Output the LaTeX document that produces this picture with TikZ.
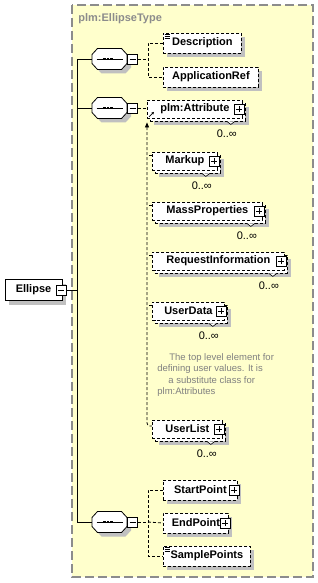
\documentclass[tikz,border=0pt]{standalone}
\usepackage{fontspec}
\setmainfont{Liberation Sans}
\usetikzlibrary{arrows.meta, positioning, calc, shadows}
\definecolor{typebg}{HTML}{FFFFCC}
\definecolor{typegray}{HTML}{8C8C8C}
\definecolor{shgray}{HTML}{C0C0C0}
\definecolor{notegray}{HTML}{808080}

\tikzset{
  boxshadow/.style={drop shadow={shadow xshift=4pt, shadow yshift=-4pt, fill=shgray, opacity=1}},
  elembase/.style={draw, fill=white, dash pattern=on 3pt off 2pt, font=\fontsize{11}{13}\selectfont\bfseries,
    minimum height=20pt, inner sep=0pt, anchor=west},
  elem/.style={elembase, boxshadow},
  pmbox/.style={draw, solid, fill=white, line width=0.6pt, minimum size=10pt, inner sep=0pt},
  minusbox/.style={pmbox, path picture={\draw[line width=0.6pt]
    ([xshift=2pt]path picture bounding box.west) -- ([xshift=-2pt]path picture bounding box.east);}},
  plusbox/.style={pmbox, path picture={\draw[line width=0.6pt]
    ([xshift=2pt]path picture bounding box.west) -- ([xshift=-2pt]path picture bounding box.east)
    ([yshift=2pt]path picture bounding box.south) -- ([yshift=-2pt]path picture bounding box.north);}},
  conn/.style={dash pattern=on 3pt off 2pt},
  occ/.style={font=\fontsize{11}{13}\selectfont, inner sep=0pt},
  seqbox/.style={minimum width=35pt, minimum height=21pt, inner sep=0pt},
  octpath/.style={insert path={(-17.5,-4.5) -- (-12,-10.5) -- (12,-10.5) -- (17.5,-4.5)
    -- (17.5,4.5) -- (12,10.5) -- (-12,10.5) -- (-17.5,4.5) -- cycle}}
}

\begin{document}
\begin{tikzpicture}[x=1pt, y=-1pt, line width=0.8pt, >={Triangle[length=5pt, width=4pt]}]

\useasboundingbox (0,0) rectangle (318,583);

% Complex type frame
\draw[typegray, fill=typebg, line width=1.2pt, dash pattern=on 9pt off 4pt] (72,5) rectangle (313,577);
\node[font=\fontsize{11}{13}\selectfont\bfseries, text=typegray, anchor=west, inner sep=0pt] (title) at (78,19) {plm:EllipseType};

% Root element
\node[elem, solid, anchor=center, minimum width=57pt, minimum height=21pt] (ellipse) at (33.5,290) {Ellipse\hspace{3pt}};
\node[minusbox] (emin) at (61,290) {};

% Sequence compositors
\node[seqbox] (seq1) at (109.5,59) {};
\node[seqbox] (seq2) at (109.5,108) {};
\node[seqbox] (seq3) at (109.5,522) {};
\foreach \s in {seq1,seq2,seq3} {
  \fill[shgray, shift={($(\s.center)+(4,4)$)}, octpath];
  \draw[fill=white, shift={(\s.center)}, octpath];
  \draw[line width=0.6pt] ($(\s.center)+(-13,0)$) -- ($(\s.center)+(13,0)$);
  \foreach \d in {-5,-1.5,2}
    \fill ($(\s.center)+(\d-1.3,-1.3)$) rectangle ++(2.6,2.6);
}
\node[minusbox, right=0pt of seq1] (min1) {};
\node[minusbox, right=0pt of seq2] (min2) {};
\node[minusbox, right=0pt of seq3] (min3) {};

% Trunk from root to the compositors
\coordinate (trunk) at (77,290);
\draw (emin.east) -- (emin.east -| trunk);
\draw (seq1.west) -- (seq1.west -| trunk) -- (seq3.west -| trunk) -- (seq3.west);
\draw (seq2.west) -- (seq2.west -| trunk);

% First sequence
\node[elem, minimum width=78pt] (desc) at (163,43) {Description};
\node[elem, minimum width=95pt] (appref) at (163,77) {ApplicationRef};
\foreach \k in {1.5,3.5,5.5}
  \draw[solid, line width=0.6pt] ($(desc.north west)+(1.5,\k)$) -- ++(5,0);
\coordinate (j1) at ($(min1.east)+(10,0)$);
\draw[conn] (min1.east) -- (j1);
\draw[conn] (desc.west) -- (desc.west -| j1) -- (appref.west -| j1) -- (appref.west);

% Second sequence: substitution group, each member unbounded
\foreach \n/\t/\x/\y/\w in {attr/plm:Attribute/147/109/95, markup/Markup/152/161/65,
    mass/MassProperties/152/211/110, reqinfo/RequestInformation/152/261/132,
    udata/UserData/152/311/72, ulist/UserList/152/429/70} {
  \node[elem, minimum width=\w pt, minimum height=18pt] (\n-back) at (\x+3,\y+3) {};
  \node[elembase, minimum width=\w pt, minimum height=18pt] (\n) at (\x,\y) {\t\hspace{9pt}};
  \node[plusbox] (\n-plus) at ($(\n.east)+(-4,0)$) {};
  \draw[solid, line width=0.6pt, fill=white] ($(\n-back.south east)+(-19,0)$) -- ++(4,3) -- ++(4,-3);
  \node[occ] (\n-occ) at ($(\n-back.south east)+(-19,12)$) {0..\char"221E};
}
\draw[-{Triangle[length=2.5pt, width=2.5pt]}, solid, line width=0.7pt] ($(attr.south west)+(2,-1.5)$) -- ++(5,-5);
\draw[conn] (min2.east) -- (min2.east -| attr.west);
\draw[conn, rounded corners=3pt, <-] ($(attr.south west)+(0,4)$) |- ($(ulist.west)+(0,-3)$);
\foreach \n in {markup,mass,reqinfo,udata}
  \draw[conn] ($(\n.north west)+(0,4)$) -- ++(-5,0);

\node[text=notegray, font=\fontsize{9.5}{11.5}\selectfont, align=left, inner sep=0pt, anchor=north west] (udnote)
  at (157,353) {\hspace*{12pt}The top level element for\\defining user values. It is\\\hspace*{11pt}a substitute class for\\plm:Attributes};

% Third sequence
\node[elem, minimum width=74pt] (startp) at (163,490) {StartPoint\hspace{9pt}};
\node[plusbox] (startp-plus) at ($(startp.east)+(-4,0)$) {};
\node[elem, minimum width=65pt] (endp) at (163,523) {EndPoint\hspace{9pt}};
\node[plusbox] (endp-plus) at ($(endp.east)+(-4,0)$) {};
\node[elem, minimum width=87pt] (samplep) at (163,556) {SamplePoints};
\foreach \k in {1.5,3.5,5.5}
  \draw[solid, line width=0.6pt] ($(samplep.north west)+(1.5,\k)$) -- ++(5,0);
\coordinate (j3) at ($(min3.east)+(10,0)$);
\draw[conn] (min3.east) -- (j3);
\draw[conn] (startp.west) -- (startp.west -| j3) -- (samplep.west -| j3) -- (samplep.west);
\draw[conn] (j3) -- (endp.west);

\end{tikzpicture}
\end{document}
